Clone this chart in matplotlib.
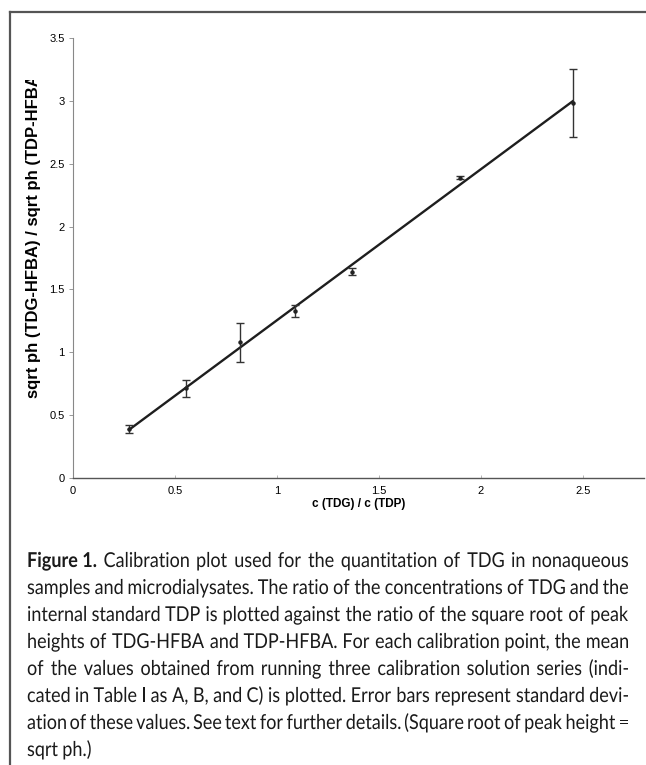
import numpy as np
import matplotlib
matplotlib.use("Agg")
import matplotlib.pyplot as plt
from matplotlib.lines import Line2D
from matplotlib.textpath import TextPath
from matplotlib.patches import PathPatch
from matplotlib.font_manager import FontProperties
from matplotlib.transforms import Affine2D, Bbox, TransformedBbox

# calibration points: concentration ratio vs sqrt peak-height ratio
conc_ratio = [0.275, 0.554, 0.819, 1.09, 1.366, 1.90, 2.45]
sqrt_ph_ratio = [0.39, 0.714, 1.08, 1.33, 1.641, 2.389, 2.986]
sd = [0.03, 0.066, 0.155, 0.05, 0.027, 0.012, 0.27]

xticks = [0, 0.5, 1, 1.5, 2, 2.5]
xticklabels = ["0", "0.5", "1", "1.5", "2", "2.5"]
yticks = [0, 0.5, 1, 1.5, 2, 2.5, 3, 3.5]
yticklabels = ["0", "0.5", "1", "1.5", "2", "2.5", "3", "3.5"]

caption_lines = [
    "Calibration plot used for the quantitation of TDG in nonaqueous",
    "samples and microdialysates. The ratio of the concentrations of TDG and the",
    "internal standard TDP is plotted against the ratio of the square root of peak",
    "heights of TDG-HFBA and TDP-HFBA. For each calibration point, the mean",
    "of the values obtained from running three calibration solution series (indi-",
    "cated in Table I as A, B, and C) is plotted. Error bars represent standard devi-",
    "ation of these values. See text for further details. (Square root of peak height =",
    "sqrt ph.)",
]

W, H = 646, 765
fig = plt.figure(figsize=(W / 100, H / 100), dpi=100)
fig.patch.set_facecolor("white")

ax = fig.add_axes([73 / W, 1 - 478 / H, (644 - 73) / W, (478 - 38) / H])
ax.set_xlim(0, 2.8)
ax.set_ylim(0, 3.5)

ax.errorbar(conc_ratio, sqrt_ph_ratio, yerr=sd, fmt="o", ms=2.2, color="#222222",
            ecolor="#333333", elinewidth=1.0, capsize=3, capthick=1.0, zorder=3)

# linear trendline over the calibration range
slope, icpt = np.polyfit(conc_ratio, sqrt_ph_ratio, 1)
xl = np.array([min(conc_ratio), max(conc_ratio)])
ax.plot(xl, slope * xl + icpt, color="#1e1e1e", lw=1.7, zorder=2)

for s in ["top", "right"]:
    ax.spines[s].set_visible(False)
ax.spines["left"].set_color("#888888")
ax.spines["bottom"].set_color("#555555")
ax.spines["left"].set_linewidth(0.8)
ax.spines["bottom"].set_linewidth(1.0)

ax.set_xticks(xticks)
ax.set_xticklabels(xticklabels)
ax.set_yticks(yticks)
ax.set_yticklabels(yticklabels)
for lab in ax.get_xticklabels() + ax.get_yticklabels():
    lab.set_fontfamily("Liberation Sans")
    lab.set_fontsize(8)
ax.tick_params(axis="x", direction="in", length=2, width=0.5, color="#999999", pad=6)
ax.tick_params(axis="y", direction="out", length=3, width=0.6, color="#888888", pad=3)

ax.set_xlabel("c (TDG) / c (TDP)", fontfamily="Liberation Sans", fontsize=8.5,
              fontweight="bold", labelpad=1)
ylab = fig.text(34 / W, 1 - 236 / H, "sqrt ph (TDG-HFBA) / sqrt ph (TDP-HFBA",
                rotation=90, ha="center", va="center", fontfamily="Liberation Sans",
                fontsize=12, fontweight="bold")
# the label is cut off at the top in the original
ylab.set_clip_box(TransformedBbox(Bbox([[0, 0], [1, 1 - 80 / H]]), fig.transFigure))
ylab.set_clip_on(True)

# frame around the figure (right/bottom cut off)
fig.add_artist(Line2D([10 / W, 1], [1 - 12 / H, 1 - 12 / H], color="#555555", lw=1.6))
fig.add_artist(Line2D([10 / W, 10 / W], [0, 1 - 12 / H], color="#555555", lw=1.6))

# caption: slightly condensed face, justified word by word
left, right = 27, 628
y0, dy = 567, 27
size_px, squeeze = 20.5, 0.88
for i, line in enumerate(caption_lines):
    items = [(w, "normal") for w in line.split(" ")]
    if i == 0:
        items = [("Figure 1.", "bold")] + items
    paths, widths = [], []
    for w, fw in items:
        tp = TextPath((0, 0), w, size=size_px, prop=FontProperties(family="Lato", weight=fw))
        paths.append(tp)
        widths.append(tp.get_extents().x1 * squeeze)
    space = 4.5
    if i < len(caption_lines) - 1:
        space = (right - left - sum(widths)) / (len(items) - 1)
    x = left
    for tp, wd in zip(paths, widths):
        tr = Affine2D().scale(squeeze, 1).translate(x, H - (y0 + i * dy))
        fig.add_artist(PathPatch(tp, transform=tr, facecolor="#1a1a1a", edgecolor="none", lw=0))
        x += wd + space

fig.savefig("out.png", dpi=100)
